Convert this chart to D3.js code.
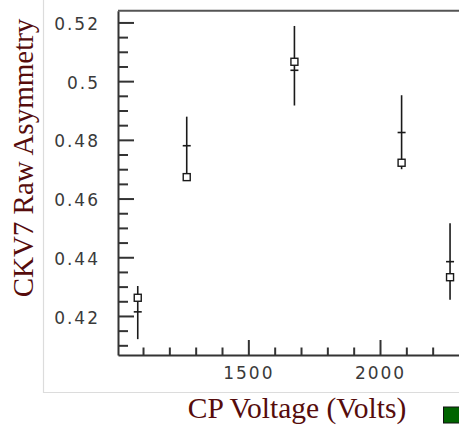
<!DOCTYPE html>
<html>
<head>
<meta charset="utf-8">
<script src="https://cdn.jsdelivr.net/npm/d3@7"></script>
<style>
  body { margin: 0; background: #fff; }
  svg { display: block; }
</style>
</head>
<body>
<div id="chart"></div>
<script>
// CP voltage scan, CKV7 raw asymmetry
const voltage = [1080, 1266, 1675, 2082, 2266];
const asymmetry = [0.4262, 0.4673, 0.5066, 0.4722, 0.4332];
const fitValue = [0.4214, 0.4780, 0.5037, 0.4825, 0.4385];
const errHigh = [0.4302, 0.4879, 0.5188, 0.4952, 0.4516];
const errLow = [0.4121, 0.4681, 0.4917, 0.4700, 0.4255];
const xMajor = [1500, 2000];
const xMinor = [1100, 1200, 1300, 1400, 1600, 1700, 1800, 1900, 2100, 2200];
const yMajor = [0.42, 0.44, 0.46, 0.48, 0.50, 0.52];
const yMinor = d3.range(0.41, 0.5201, 0.005).filter(v => !yMajor.some(m => Math.abs(m - v) < 1e-6));

const width = 459, height = 425;
const mLeft = 118, mTop = 10.7, mBottom = 355, mRight = 459;

const svg = d3.select('#chart')
  .append('svg')
  .attr('width', width)
  .attr('height', height);

// light panel behind the chart
svg.append('path')
  .attr('d', `M43.5,0 V392.5 H${width}`)
  .attr('fill', 'none')
  .attr('stroke', '#dcdcdc')
  .attr('stroke-width', 1.2);

const x = d3.scaleLinear().domain([1005, 2300]).range([mLeft, mRight]);
const y = d3.scaleLinear().domain([0.4067, 0.524]).range([mBottom, mTop]);

const tickFont = g => g.selectAll('text')
  .attr('font-family', 'DejaVu Sans, sans-serif')
  .attr('font-size', 17)
  .attr('letter-spacing', 2)
  .attr('fill', '#3a3a3a');

// Y axis
svg.append('g')
  .attr('transform', `translate(${mLeft},0)`)
  .call(d3.axisLeft(y).tickValues(yMinor).tickSize(-10).tickSizeOuter(0).tickFormat(''))
  .call(g => g.select('.domain').remove())
  .call(g => g.selectAll('line').attr('stroke', '#333').attr('stroke-width', 2));

svg.append('g')
  .attr('transform', `translate(${mLeft},0)`)
  .call(d3.axisLeft(y).tickValues(yMajor).tickSize(-16).tickSizeOuter(0).tickPadding(18)
    .tickFormat(d => d3.format('')(+d.toFixed(2))))
  .call(g => g.select('.domain').attr('stroke', '#333').attr('stroke-width', 2))
  .call(g => g.selectAll('line').attr('stroke', '#333').attr('stroke-width', 2))
  .call(tickFont)
  .call(g => g.selectAll('text').attr('dy', '0.42em'));

// X axis
svg.append('g')
  .attr('transform', `translate(0,${mBottom})`)
  .call(d3.axisBottom(x).tickValues(xMinor).tickSize(-7.5).tickSizeOuter(0).tickFormat(''))
  .call(g => g.select('.domain').remove())
  .call(g => g.selectAll('line').attr('stroke', '#333').attr('stroke-width', 2));

svg.append('g')
  .attr('transform', `translate(0,${mBottom})`)
  .call(d3.axisBottom(x).tickValues(xMajor).tickSize(-15).tickSizeOuter(0).tickPadding(12.4).tickFormat(d3.format('')))
  .call(g => g.select('.domain').attr('stroke', '#333').attr('stroke-width', 2))
  .call(g => g.selectAll('line').attr('stroke', '#333').attr('stroke-width', 2))
  .call(tickFont);

// top frame line
svg.append('line')
  .attr('x1', mLeft).attr('x2', mRight)
  .attr('y1', mTop).attr('y2', mTop)
  .attr('stroke', '#555')
  .attr('stroke-width', 2);

const data = voltage.map((v, i) => ({
  v, a: asymmetry[i], f: fitValue[i], hi: errHigh[i], lo: errLow[i]
}));

const pts = svg.append('g').selectAll('g')
  .data(data)
  .enter()
  .append('g');

pts.append('line')
  .attr('x1', d => x(d.v)).attr('x2', d => x(d.v))
  .attr('y1', d => y(d.hi)).attr('y2', d => y(d.lo))
  .attr('stroke', '#1a1a1a')
  .attr('stroke-width', 1.6);

pts.append('line')
  .attr('x1', d => x(d.v) - 4).attr('x2', d => x(d.v) + 4)
  .attr('y1', d => y(d.f)).attr('y2', d => y(d.f))
  .attr('stroke', '#1a1a1a')
  .attr('stroke-width', 1.6);

pts.append('rect')
  .attr('x', d => x(d.v) - 3.5)
  .attr('y', d => y(d.a) - 3.5)
  .attr('width', 7)
  .attr('height', 7)
  .attr('fill', '#fff')
  .attr('stroke', '#1a1a1a')
  .attr('stroke-width', 1.4);

// axis titles
svg.append('text')
  .attr('transform', 'translate(33,158) rotate(-90)')
  .attr('text-anchor', 'middle')
  .attr('font-family', 'Liberation Serif, Times New Roman, serif')
  .attr('font-size', 29)
  .attr('fill', '#560c0c')
  .text('CKV7 Raw Asymmetry');

svg.append('text')
  .attr('x', 297)
  .attr('y', 418)
  .attr('text-anchor', 'middle')
  .attr('font-family', 'Liberation Serif, Times New Roman, serif')
  .attr('font-size', 29.5)
  .attr('fill', '#560c0c')
  .text('CP Voltage (Volts)');

// legend swatch
svg.append('rect')
  .attr('x', 443.5)
  .attr('y', 407)
  .attr('width', 16)
  .attr('height', 16)
  .attr('fill', '#006400')
  .attr('stroke', '#111')
  .attr('stroke-width', 1);
</script>
</body>
</html>
